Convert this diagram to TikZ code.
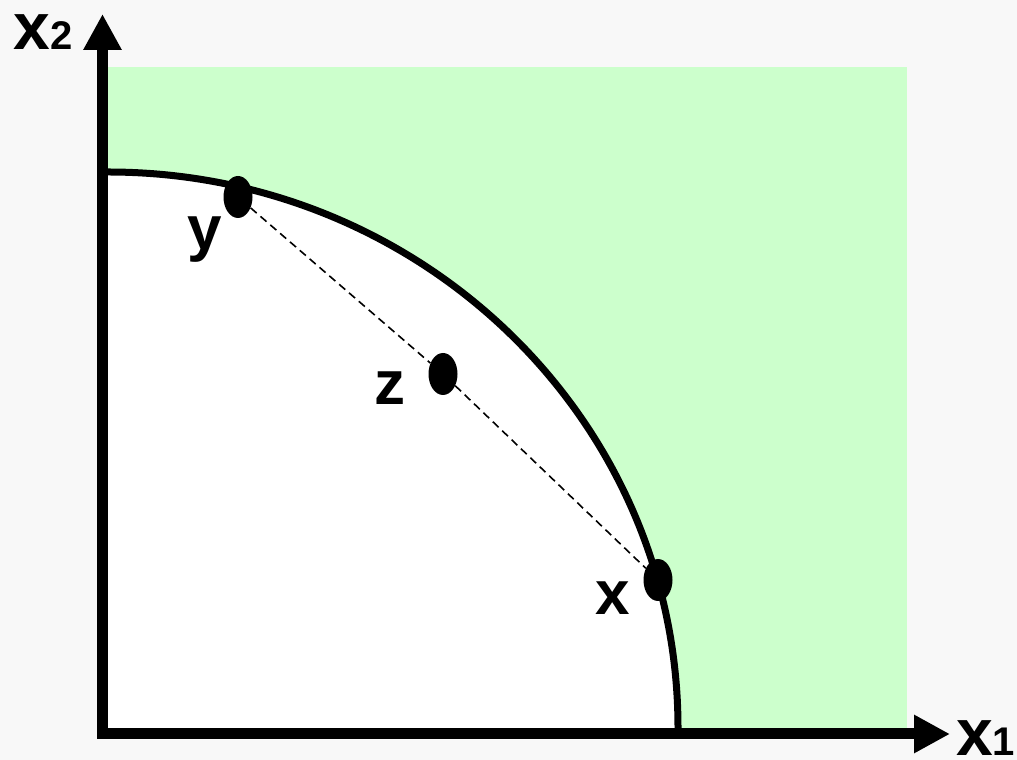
\documentclass[tikz,border=0pt]{standalone}
\usepackage{fontspec}
\setmainfont{Liberation Sans}
\usetikzlibrary{arrows.meta,positioning,shapes.geometric}
\definecolor{bggray}{HTML}{F8F8F8}
\definecolor{lgreen}{HTML}{CCFFCC}

\begin{document}
\begin{tikzpicture}[x=1pt,y=1pt,
  pt/.style={ellipse,fill=black,inner sep=0pt,minimum width=29pt,minimum height=42pt},
  lab/.style={inner sep=0pt,font=\fontsize{62}{62}\selectfont\bfseries},
  axl/.style={inner sep=0pt,font=\fontsize{66}{66}\selectfont\bfseries},
  ax/.style={line width=11pt,-{Triangle[length=36pt,width=36pt]}}]
\fill[bggray] (0,0) rectangle (1017,760);
\useasboundingbox (0,0) rectangle (1017,760);
% feasible region and its boundary
\fill[lgreen] (108,32) rectangle (907,693);
\fill[white] (108,32) -- (108,588) arc[start angle=90,end angle=0,x radius=570,y radius=556] -- cycle;
\draw[line width=7pt] (108,588) arc[start angle=90,end angle=0,x radius=570,y radius=556];
% axes
\coordinate (o2) at (102.5,21);
\coordinate (t2) at (102.5,746);
\coordinate (o1) at (97,26);
\coordinate (t1) at (950,26);
\draw[ax] (o2)--(t2);
\draw[ax] (o1)--(t1);
\node[axl,anchor=base east] (n2) at (73,710) {x{\fontsize{40}{40}\selectfont 2}};
\node[axl,anchor=base west] (n1) at (956,4) {x{\fontsize{40}{40}\selectfont 1}};
% points
\node[pt] (py) at (238,563) {};
\node[pt] (pz) at (443,386) {};
\node[pt] (px) at (658,180) {};
\draw[line width=1.6pt,dash pattern=on 8pt off 5pt] (py)--(pz)--(px);
\node[lab,below left=5pt and 5pt of py] (ly) {y};
\node[lab,below left=-17pt and 27pt of pz] (lz) {z};
\node[lab,below left=-13pt and 17pt of px] (lx) {x};
\end{tikzpicture}
\end{document}
